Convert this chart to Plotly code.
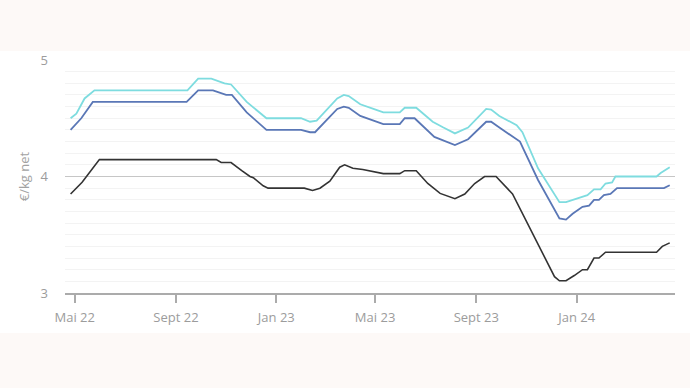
import plotly.graph_objects as go

# ---- data ----
cyan_dates = ["2022-04-26", "2022-05-03", "2022-05-13", "2022-05-25", "2022-09-15", "2022-09-28",
              "2022-10-14", "2022-10-30", "2022-11-07", "2022-11-26", "2022-12-20", "2023-01-31",
              "2023-02-11", "2023-02-19", "2023-03-16", "2023-03-24", "2023-03-30", "2023-04-13",
              "2023-04-29", "2023-05-11", "2023-05-31", "2023-06-06", "2023-06-20", "2023-07-10",
              "2023-07-23", "2023-08-06", "2023-08-22", "2023-09-13", "2023-09-19", "2023-09-29",
              "2023-10-20", "2023-10-27", "2023-11-15", "2023-12-11", "2023-12-19", "2024-01-04",
              "2024-01-14", "2024-01-22", "2024-01-30", "2024-02-05", "2024-02-13", "2024-02-17",
              "2024-04-07", "2024-04-12", "2024-04-23"]
cyan_values = [4.50, 4.54, 4.67, 4.74, 4.74, 4.84,
               4.84, 4.80, 4.79, 4.64, 4.50, 4.50,
               4.47, 4.48, 4.67, 4.70, 4.69, 4.62,
               4.58, 4.55, 4.55, 4.59, 4.59, 4.47,
               4.42, 4.37, 4.42, 4.58, 4.575, 4.52,
               4.44, 4.38, 4.07, 3.78, 3.78, 3.82,
               3.84, 3.89, 3.89, 3.94, 3.95, 4.00,
               4.00, 4.03, 4.08]

blue_dates = ["2022-04-26", "2022-05-09", "2022-05-23", "2022-09-14", "2022-09-28", "2022-10-16",
              "2022-11-01", "2022-11-08", "2022-11-26", "2022-12-20", "2023-01-31", "2023-02-11",
              "2023-02-17", "2023-03-16", "2023-03-24", "2023-03-30", "2023-04-13", "2023-04-29",
              "2023-05-11", "2023-05-31", "2023-06-06", "2023-06-18", "2023-07-12", "2023-08-06",
              "2023-08-22", "2023-09-13", "2023-09-19", "2023-09-29", "2023-10-24", "2023-11-15",
              "2023-12-11", "2023-12-19", "2023-12-27", "2024-01-08", "2024-01-16", "2024-01-22",
              "2024-01-28", "2024-02-03", "2024-02-11", "2024-02-19", "2024-04-16", "2024-04-23"]
blue_values = [4.40, 4.50, 4.64, 4.64, 4.74, 4.74,
               4.70, 4.70, 4.55, 4.40, 4.40, 4.38,
               4.38, 4.58, 4.60, 4.59, 4.52, 4.48,
               4.45, 4.45, 4.50, 4.50, 4.34, 4.27,
               4.32, 4.47, 4.47, 4.42, 4.30, 3.97,
               3.64, 3.63, 3.68, 3.74, 3.75, 3.80,
               3.80, 3.84, 3.85, 3.90, 3.90, 3.925]

black_dates = ["2022-04-26", "2022-05-10", "2022-05-31", "2022-10-20", "2022-10-26", "2022-11-07",
               "2022-11-20", "2022-11-30", "2022-12-04", "2022-12-16", "2022-12-22", "2023-02-04",
               "2023-02-14", "2023-02-23", "2023-03-07", "2023-03-19", "2023-03-25", "2023-04-04",
               "2023-04-16", "2023-04-29", "2023-05-11", "2023-05-31", "2023-06-06", "2023-06-20",
               "2023-07-04", "2023-07-19", "2023-08-06", "2023-08-18", "2023-08-30", "2023-09-11",
               "2023-09-25", "2023-10-15", "2023-12-05", "2023-12-11", "2023-12-19", "2023-12-29",
               "2024-01-08", "2024-01-14", "2024-01-22", "2024-01-28", "2024-02-05", "2024-04-07",
               "2024-04-14", "2024-04-23"]
black_values = [3.85, 3.95, 4.145, 4.145, 4.12, 4.12,
                4.05, 4.00, 3.99, 3.92, 3.90, 3.90,
                3.88, 3.90, 3.96, 4.08, 4.10, 4.07,
                4.06, 4.045, 4.025, 4.025, 4.05, 4.05,
                3.94, 3.855, 3.81, 3.85, 3.94, 4.00,
                4.00, 3.85, 3.14, 3.105, 3.105, 3.15,
                3.20, 3.20, 3.30, 3.30, 3.35, 3.35,
                3.40, 3.43]

tick_dates = ["2022-05-01", "2022-09-01", "2023-01-01", "2023-05-01", "2023-09-01", "2024-01-01"]
tick_labels = ["Mai 22", "Sept 22", "Jan 23", "Mai 23", "Sept 23", "Jan 24"]

PINK = "#FDF9F7"
FONT = "Open Sans"

fig = go.Figure()
fig.add_trace(go.Scatter(x=cyan_dates, y=cyan_values, mode="lines",
                         line=dict(color="#7EDCDF", width=1.8), showlegend=False))
fig.add_trace(go.Scatter(x=blue_dates, y=blue_values, mode="lines",
                         line=dict(color="#5A77B6", width=1.8), showlegend=False))
fig.add_trace(go.Scatter(x=black_dates, y=black_values, mode="lines",
                         line=dict(color="#333333", width=1.6), showlegend=False))

# white band behind the chart
fig.add_shape(type="rect", xref="paper", yref="paper", x0=-0.2, x1=1.2,
              y0=-0.1717, y1=1.0386, fillcolor="white", line=dict(width=0), layer="below")

fig.update_layout(
    width=690, height=388,
    margin=dict(l=65, r=15, t=60, b=95),
    paper_bgcolor=PINK, plot_bgcolor="rgba(0,0,0,0)",
    font=dict(family=FONT, color="#9C9C9C", size=13),
    xaxis=dict(
        type="date",
        range=["2022-04-19 05:00", "2024-04-29 10:00"],
        tickvals=tick_dates, ticktext=tick_labels,
        showgrid=False, zeroline=False,
        showline=True, linecolor="#ABABAB", linewidth=2,
        ticks="outside", ticklen=8, tickwidth=1.5, tickcolor="#ABABAB",
        tickfont=dict(size=13, color="#9C9C9C"),
        ticklabelstandoff=3,
        fixedrange=True,
    ),
    yaxis=dict(
        range=[3, 5], dtick=1, tick0=3,
        showgrid=True, gridcolor="#C6C6C6", gridwidth=1.2,
        zeroline=False, showline=False,
        minor=dict(dtick=0.1, showgrid=True, gridcolor="#F3F3F3", gridwidth=1),
        tickfont=dict(size=13, color="#9C9C9C"),
        ticklabelstandoff=16,
        title=dict(text="€/kg net", font=dict(size=13, color="#A2A2A2"), standoff=8),
        fixedrange=True,
    ),
)

fig.write_html("out.html", config={"displayModeBar": False},
               post_script="document.body.style.margin='0';document.body.style.overflow='hidden';")
